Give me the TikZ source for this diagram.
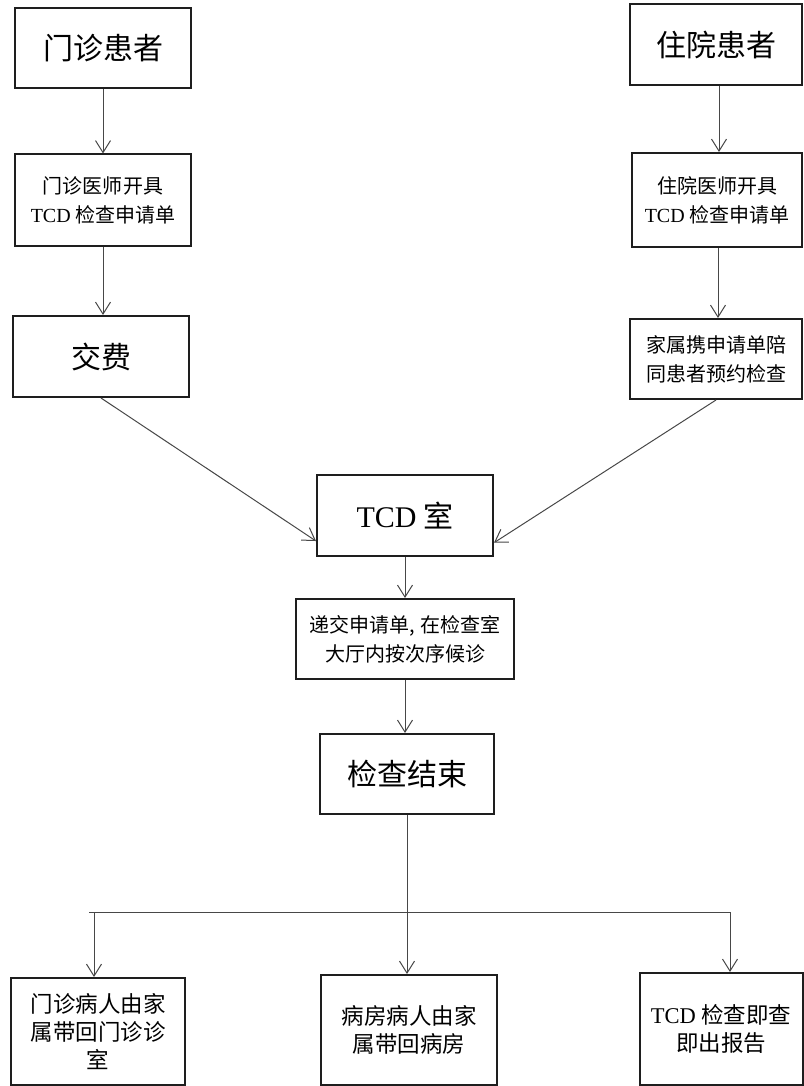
\documentclass[tikz,border=0pt]{standalone}
\usepackage{fontspec}
\setmainfont{Liberation Serif}
\newfontfamily\cjk{Noto Sans CJK SC}
\usetikzlibrary{arrows.meta}
\definecolor{edgec}{HTML}{1E1E1E}
\definecolor{wirec}{HTML}{474747}
\newcommand{\TCDtxt}{{\rmfamily TCD}}
\tikzset{
  box/.style={draw=edgec, line width=2pt, inner sep=0pt, align=center},
  big/.style={box, font=\cjk\fontsize{30}{36}\selectfont},
  mid/.style={box, font=\cjk\fontsize{20}{29}\selectfont},
  low/.style={box, font=\cjk\fontsize{22.5}{28}\selectfont},
  wire/.style={draw=wirec, line width=1pt},
  arr/.style={wire, -{Straight Barb[length=12pt,width=15pt]}}
}

\begin{document}
\begin{tikzpicture}[x=1pt, y=-1pt]
  \fill[white] (0,0) rectangle (803,1086);
  \useasboundingbox (0,0) rectangle (803,1086);
  % outpatient column
  \node[big, minimum width=176pt, minimum height=80pt] (outA) at (103,48.5) {门诊患者};
  \node[mid, minimum width=176pt, minimum height=91pt] (outB) at (103,200) {门诊医师开具\\\TCDtxt{} 检查申请单};
  \node[big, minimum width=176pt, minimum height=81pt] (fee) at (101,356.5) {交费};
  % inpatient column
  \node[big, minimum width=172pt, minimum height=81pt] (inA) at (716,44.5) {住院患者};
  \node[mid, minimum width=170pt, minimum height=94pt] (inB) at (717,200) {住院医师开具\\\TCDtxt{} 检查申请单};
  \node[mid, minimum width=172pt, minimum height=80pt] (inC) at (716,359) {家属携申请单陪\\同患者预约检查};
  % centre column
  \node[big, minimum width=176pt, minimum height=81pt] (tcd) at (405,515.5) {\TCDtxt{} 室};
  \node[mid, minimum width=218pt, minimum height=80pt] (wait) at (405,639) {递交申请单, 在检查室\\大厅内按次序候诊};
  \node[big, minimum width=174pt, minimum height=80pt] (done) at (407,774) {检查结束};
  % results
  \node[low, minimum width=174pt, minimum height=107pt] (outR) at (98,1031.5) {门诊病人由家\\属带回门诊诊\\室};
  \node[low, minimum width=176pt, minimum height=110pt] (wardR) at (409,1030) {病房病人由家\\属带回病房};
  \node[low, minimum width=163pt, minimum height=112pt] (rep) at (721,1029) {\TCDtxt{} 检查即查\\即出报告};

  \coordinate (split) at (407,912);
  \coordinate (barL) at (89,912);
  \coordinate (forkL) at (94,912);
  \coordinate (forkR) at (730,912);

  \draw[arr] (outA.south) -- (outB.north);
  \draw[arr] (outB.south) -- (outB.south |- fee.north);
  \draw[arr] (inA.south -| 719,0) -- (inB.north -| 719,0);
  \draw[arr] (inB.south -| 718,0) -- (inC.north -| 718,0);
  \draw[arr] (fee.south) -- (tcd.196);
  \draw[arr] (inC.south) -- (tcd.343);
  \draw[arr] (tcd.south) -- (wait.north);
  \draw[arr] (wait.south) -- (wait.south |- done.north);
  % fork to the three results
  \draw[wire] (done.south) -- (split);
  \draw[wire] (barL) -- (forkR);
  \draw[arr] (forkL) -- (forkL |- outR.north);
  \draw[arr] (split) -- (split |- wardR.north);
  \draw[arr] (forkR) -- (forkR |- rep.north);
\end{tikzpicture}
\end{document}
